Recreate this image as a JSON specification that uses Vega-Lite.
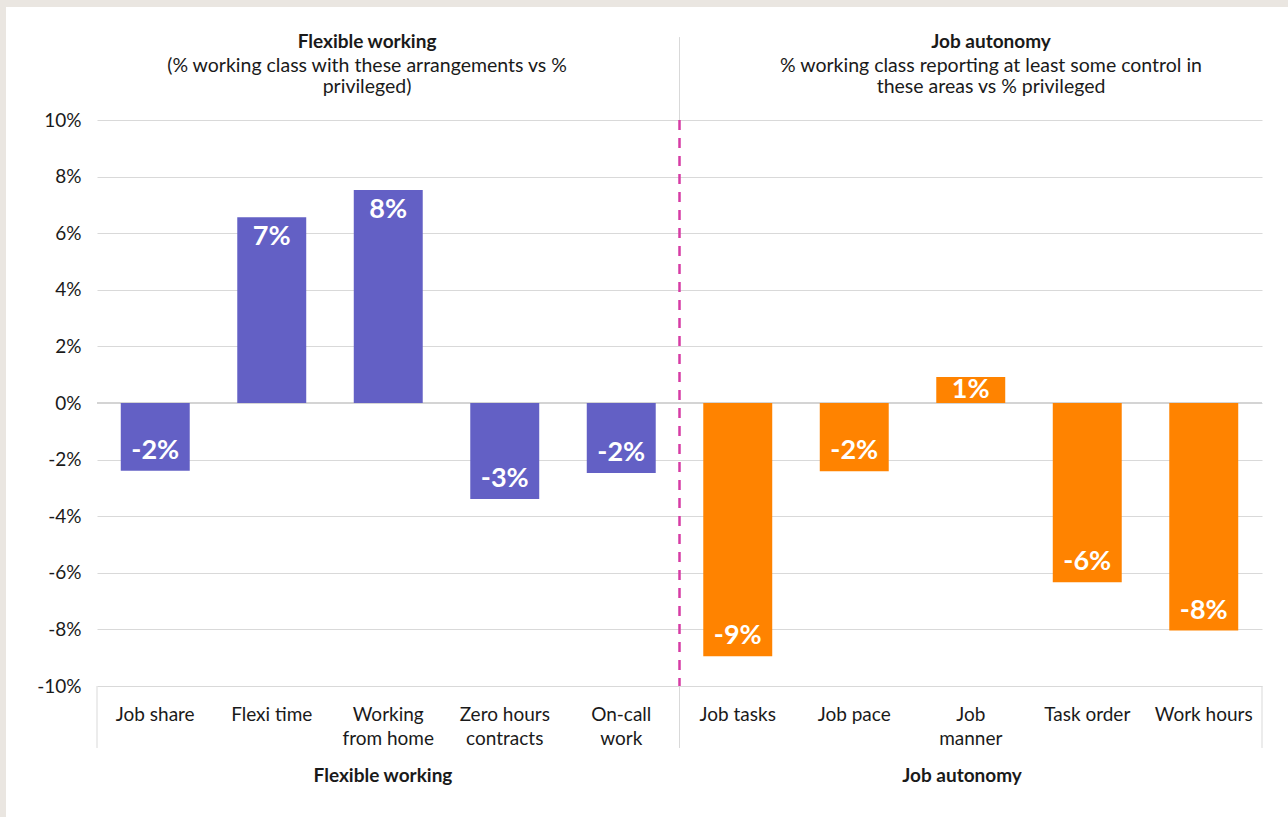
{
  "$schema": "https://vega.github.io/schema/vega-lite/v6.json",
  "width": 1165,
  "height": 566,
  "padding": 0,
  "autosize": {"type": "pad"},
  "background": "#ffffff",
  "config": {"view": {"stroke": null}, "font": "Lato"},
  "datasets": {
    "bars": [
      {"cat": "Job share", "group": "Flexible working", "value": -2.39, "label": "-2%"},
      {"cat": "Flexi time", "group": "Flexible working", "value": 6.56, "label": "7%"},
      {"cat": "Working from home", "group": "Flexible working", "value": 7.53, "label": "8%"},
      {"cat": "Zero hours contracts", "group": "Flexible working", "value": -3.39, "label": "-3%"},
      {"cat": "On-call work", "group": "Flexible working", "value": -2.47, "label": "-2%"},
      {"cat": "Job tasks", "group": "Job autonomy", "value": -8.95, "label": "-9%"},
      {"cat": "Job pace", "group": "Job autonomy", "value": -2.41, "label": "-2%"},
      {"cat": "Job manner", "group": "Job autonomy", "value": 0.92, "label": "1%"},
      {"cat": "Task order", "group": "Job autonomy", "value": -6.33, "label": "-6%"},
      {"cat": "Work hours", "group": "Job autonomy", "value": -8.04, "label": "-8%"}
    ]
  },
  "resolve": {"scale": {"x": "independent"}, "axis": {"x": "independent"}},
  "layer": [
    {
      "data": {"values": [{}]},
      "layer": [
        {
          "mark": {"type": "rect", "fill": "#eae6e1"},
          "encoding": {
            "x": {"datum": -0.08326, "type": "quantitative", "scale": {"domain": [0, 1], "nice": false, "zero": false}, "axis": null},
            "x2": {"datum": 1.0223},
            "y": {"datum": 14.236, "type": "quantitative", "scale": {"domain": [-10, 10], "nice": false, "zero": false}},
            "y2": {"datum": 13.993}
          }
        },
        {
          "mark": {"type": "rect", "fill": "#eae6e1"},
          "encoding": {
            "x": {"datum": -0.08326, "type": "quantitative"},
            "x2": {"datum": -0.07811},
            "y": {"datum": 14.236, "type": "quantitative"},
            "y2": {"datum": -14.63}
          }
        }
      ]
    },
    {
      "data": {"name": "bars"},
      "layer": [
        {
          "data": {"values": [{}]},
          "mark": {"type": "rule", "color": "#d4d4d4", "strokeWidth": 2},
          "encoding": {"y": {"datum": 0, "type": "quantitative"}}
        },
        {
          "mark": {"type": "bar", "width": {"band": 0.592}},
          "encoding": {
            "x": {
              "field": "cat", "type": "nominal", "sort": null,
              "scale": {"domain": ["Job share", "Flexi time", "Working from home", "Zero hours contracts", "On-call work", "Job tasks", "Job pace", "Job manner", "Task order", "Work hours"], "paddingInner": 0, "paddingOuter": 0},
              "axis": {
                "title": null, "orient": "bottom", "domain": false, "ticks": false, "grid": false,
                "labelAngle": 0, "labelFontSize": 19, "labelPadding": 19, "labelColor": "#1a1a1a",
                "labelLineHeight": 24, "labelLimit": 300, "labelFont": "Lato",
                "labelExpr": "datum.label == 'Working from home' ? ['Working', 'from home'] : datum.label == 'Zero hours contracts' ? ['Zero hours', 'contracts'] : datum.label == 'On-call work' ? ['On-call', 'work'] : datum.label == 'Job manner' ? ['Job', 'manner'] : datum.label"
              }
            },
            "y": {
              "field": "value", "type": "quantitative",
              "scale": {"domain": [-10, 10], "nice": false, "zero": false},
              "axis": {
                "title": null, "values": [-10, -8, -6, -4, -2, 0, 2, 4, 6, 8, 10],
                "labelExpr": "datum.value + '%'", "domain": false, "ticks": false, "grid": true,
                "gridColor": "#d9d9d9", "gridWidth": 1, "labelFontSize": 19, "labelPadding": 16,
                "labelColor": "#1a1a1a", "labelFont": "Lato"
              }
            },
            "color": {
              "field": "group", "type": "nominal",
              "scale": {"domain": ["Flexible working", "Job autonomy"], "range": ["#6360c5", "#ff8300"]},
              "legend": null
            }
          }
        },
        {
          "transform": [{"filter": "datum.value >= 2"}],
          "mark": {"type": "text", "color": "#ffffff", "fontSize": 27, "fontWeight": "bold", "baseline": "middle", "dy": 20, "font": "Lato"},
          "encoding": {
            "x": {"field": "cat", "type": "nominal"},
            "y": {"field": "value", "type": "quantitative"},
            "text": {"field": "label"}
          }
        },
        {
          "transform": [{"filter": "datum.value > 0 && datum.value < 2"}],
          "mark": {"type": "text", "color": "#ffffff", "fontSize": 27, "fontWeight": "bold", "baseline": "middle", "dy": 13, "font": "Lato"},
          "encoding": {
            "x": {"field": "cat", "type": "nominal"},
            "y": {"field": "value", "type": "quantitative"},
            "text": {"field": "label"}
          }
        },
        {
          "transform": [{"filter": "datum.value < 0"}],
          "mark": {"type": "text", "color": "#ffffff", "fontSize": 27, "fontWeight": "bold", "baseline": "middle", "dy": -20, "font": "Lato"},
          "encoding": {
            "x": {"field": "cat", "type": "nominal"},
            "y": {"field": "value", "type": "quantitative"},
            "text": {"field": "label"}
          }
        },
        {
          "data": {"values": [{}]},
          "mark": {"type": "rule", "color": "#d9d9d9", "strokeWidth": 1},
          "encoding": {
            "x": {"datum": "Job share", "type": "nominal", "bandPosition": 0},
            "y": {"datum": -10, "type": "quantitative"},
            "y2": {"datum": -12.19}
          }
        },
        {
          "data": {"values": [{}]},
          "mark": {"type": "rule", "color": "#d9d9d9", "strokeWidth": 1},
          "encoding": {
            "x": {"datum": "Work hours", "type": "nominal", "bandPosition": 1},
            "y": {"datum": -10, "type": "quantitative"},
            "y2": {"datum": -12.19}
          }
        },
        {
          "data": {"values": [{}]},
          "mark": {"type": "rule", "color": "#d9d9d9", "strokeWidth": 1},
          "encoding": {
            "x": {"datum": "Job tasks", "type": "nominal", "bandPosition": 0},
            "y": {"datum": -10, "type": "quantitative"},
            "y2": {"datum": -12.19}
          }
        },
        {
          "data": {"values": [{}]},
          "mark": {"type": "rule", "color": "#d9d9d9", "strokeWidth": 1},
          "encoding": {
            "x": {"datum": "Job tasks", "type": "nominal", "bandPosition": 0},
            "y": {"datum": 12.93, "type": "quantitative"},
            "y2": {"datum": 10}
          }
        },
        {
          "data": {"values": [{}]},
          "mark": {"type": "rule", "color": "#d63ca5", "strokeWidth": 2.5, "strokeDash": [10, 8]},
          "encoding": {
            "x": {"datum": "Job tasks", "type": "nominal", "bandPosition": 0},
            "y": {"datum": 10, "type": "quantitative"},
            "y2": {"datum": -10}
          }
        },
        {
          "data": {"values": [{}]},
          "mark": {"type": "text", "fontSize": 19, "fontWeight": "bold", "color": "#1a1a1a", "baseline": "middle", "align": "center", "font": "Lato"},
          "encoding": {
            "x": {"datum": "Working from home", "type": "nominal", "bandPosition": 0.318},
            "y": {"datum": 12.753, "type": "quantitative"},
            "text": {"value": "Flexible working"}
          }
        },
        {
          "data": {"values": [{}]},
          "mark": {"type": "text", "fontSize": 19.5, "color": "#1a1a1a", "baseline": "middle", "align": "center", "lineBreak": "\n", "lineHeight": 21, "font": "Lato"},
          "encoding": {
            "x": {"datum": "Working from home", "type": "nominal", "bandPosition": 0.318},
            "y": {"datum": 11.906, "type": "quantitative"},
            "text": {"value": "(% working class with these arrangements vs %\nprivileged)"}
          }
        },
        {
          "data": {"values": [{}]},
          "mark": {"type": "text", "fontSize": 19, "fontWeight": "bold", "color": "#1a1a1a", "baseline": "middle", "align": "center", "font": "Lato"},
          "encoding": {
            "x": {"datum": "Job manner", "type": "nominal", "bandPosition": 0.674},
            "y": {"datum": 12.753, "type": "quantitative"},
            "text": {"value": "Job autonomy"}
          }
        },
        {
          "data": {"values": [{}]},
          "mark": {"type": "text", "fontSize": 19.5, "color": "#1a1a1a", "baseline": "middle", "align": "center", "lineBreak": "\n", "lineHeight": 21, "font": "Lato"},
          "encoding": {
            "x": {"datum": "Job manner", "type": "nominal", "bandPosition": 0.674},
            "y": {"datum": 11.906, "type": "quantitative"},
            "text": {"value": "% working class reporting at least some control in\nthese areas vs % privileged"}
          }
        },
        {
          "data": {"values": [{}]},
          "mark": {"type": "text", "fontSize": 19, "fontWeight": "bold", "color": "#1a1a1a", "baseline": "middle", "align": "center", "font": "Lato"},
          "encoding": {
            "x": {"datum": "Working from home", "type": "nominal", "bandPosition": 0.455},
            "y": {"datum": -13.18, "type": "quantitative"},
            "text": {"value": "Flexible working"}
          }
        },
        {
          "data": {"values": [{}]},
          "mark": {"type": "text", "fontSize": 19, "fontWeight": "bold", "color": "#1a1a1a", "baseline": "middle", "align": "center", "font": "Lato"},
          "encoding": {
            "x": {"datum": "Job manner", "type": "nominal", "bandPosition": 0.425},
            "y": {"datum": -13.18, "type": "quantitative"},
            "text": {"value": "Job autonomy"}
          }
        }
      ]
    }
  ]
}
